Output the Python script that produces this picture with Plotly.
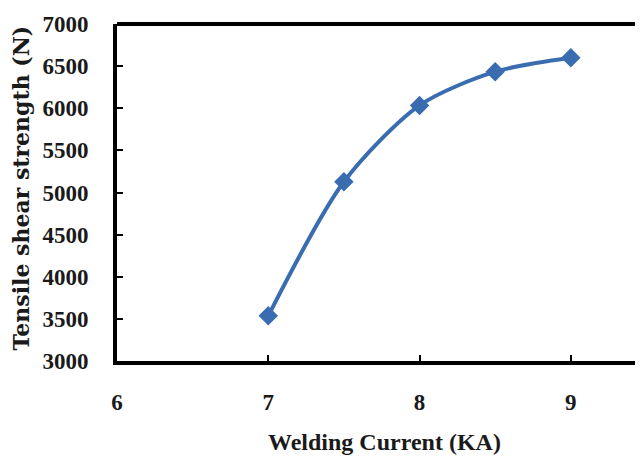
import plotly.graph_objects as go

current_ka = [7, 7.5, 8, 8.5, 9]
shear_strength_n = [3536, 5127, 6034, 6434, 6599]
x_ticks = [6, 7, 8, 9]
y_ticks = [3000, 3500, 4000, 4500, 5000, 5500, 6000, 6500, 7000]

fig = go.Figure()
fig.add_trace(go.Scatter(
    x=current_ka, y=shear_strength_n, mode="lines+markers",
    line=dict(color="#3a6db0", width=4, shape="spline", smoothing=0.8),
    marker=dict(symbol="diamond", size=15, color="#3a6db0"),
    showlegend=False,
))

font_family = "Liberation Serif, Times New Roman, serif"
wide_serif = "DejaVu Serif, serif"
fig.update_layout(
    width=643, height=461,
    margin=dict(l=109, r=0, t=16, b=108),
    paper_bgcolor="white", plot_bgcolor="white",
    font=dict(family=font_family, color="#1a1a1a"),
    xaxis=dict(
        range=[6, 9.53], tickvals=x_ticks, ticktext=[str(v) for v in x_ticks],
        automargin=False,
        showgrid=False, zeroline=False, showline=True, linecolor="black", linewidth=4,
        mirror=False, ticks="inside", ticklen=6, tickwidth=2, tickcolor="black",
        tickfont=dict(size=23, family=font_family, weight="bold"),
        ticklabelstandoff=17,
    ),
    yaxis=dict(
        range=[3000, 7000], tickvals=y_ticks, ticktext=[str(v) for v in y_ticks],
        automargin=False,
        showgrid=False, zeroline=False, showline=True, linecolor="black", linewidth=4,
        ticks="inside", ticklen=6, tickwidth=2, tickcolor="black",
        tickfont=dict(size=23, family=font_family, weight="bold"),
        ticklabelstandoff=20,
    ),
)
fig.add_annotation(text="Welding Current (KA)", xref="paper", yref="paper", x=0.5, y=0,
                   xanchor="center", yanchor="middle", yshift=-81, showarrow=False,
                   font=dict(size=24, family=font_family, weight="bold", color="#1a1a1a"))
fig.add_annotation(text="Tensile shear strength (N)", xref="paper", yref="paper", x=0, y=0.5,
                   xanchor="center", yanchor="middle", xshift=-97, yshift=4, textangle=-90,
                   showarrow=False,
                   font=dict(size=22, family=wide_serif, weight="bold", color="#1a1a1a"))
# top border line
fig.add_shape(type="line", xref="paper", yref="paper", x0=0, x1=1, y0=1, y1=1,
              line=dict(color="black", width=4))

fig.write_html("out.html")
